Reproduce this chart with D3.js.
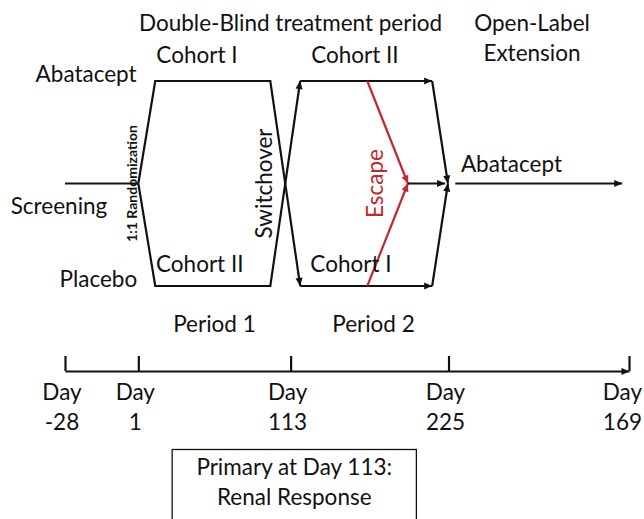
<!DOCTYPE html>
<html>
<head>
<meta charset="utf-8">
<script src="https://cdn.jsdelivr.net/npm/d3@7"></script>
<style>
  body { margin: 0; background: #fff; }
  svg text { font-family: Lato, "Open Sans", sans-serif; fill: #111; }
</style>
</head>
<body>
<div id="chart"></div>
<script>
// arms (rows of the diagram)
const arms = ["Abatacept", "Screening", "Placebo"]

// timeline milestones (schematic position along the study, 0..100)
const milestoneDays = ["-28", "1", "113", "225", "169"]
const milestonePos = [0, 13, 40, 68, 100]

// flow segments: [schematic position, arm]
const screeningPath = [[0, "Screening"], [13, "Screening"]]
const cohortIPeriod1 = [[13, "Screening"], [16, "Abatacept"], [36.4, "Abatacept"], [41.7, "Placebo"]]
const cohortIIPeriod1 = [[13, "Screening"], [16, "Placebo"], [36.4, "Placebo"], [41.7, "Abatacept"]]
const cohortIIPeriod2 = [[41.7, "Abatacept"], [65.1, "Abatacept"]]
const cohortIPeriod2 = [[41.7, "Placebo"], [65.1, "Placebo"]]
const toExtensionTop = [[65.1, "Abatacept"], [67.9, "Screening"]]
const toExtensionBottom = [[65.1, "Placebo"], [67.9, "Screening"]]
const escapeTop = [[53.6, "Abatacept"], [60.8, "Screening"]]
const escapeBottom = [[53.6, "Placebo"], [60.8, "Screening"]]
const escapeOut = [[60.8, "Screening"], [67.4, "Screening"]]
const extensionPath = [[69.2, "Screening"], [98.8, "Screening"]]

let width = 644
let height = 519
let red = "#c4262b"
let fontSize = 22.5

let svg = d3.select("#chart")
    .append("svg")
    .attr("width", width)
    .attr("height", height)

let x = d3.scaleLinear().domain([0, 100]).range([65, 629])
let y = d3.scalePoint().domain(arms).range([81, 286])

let defs = svg.append("defs")
function marker(id, color) {
    defs.append("marker")
        .attr("id", id)
        .attr("viewBox", "0 0 10 10")
        .attr("refX", 10)
        .attr("refY", 5)
        .attr("markerUnits", "userSpaceOnUse")
        .attr("markerWidth", 9)
        .attr("markerHeight", 8)
        .attr("orient", "auto")
        .append("path")
        .attr("d", "M0,0.5L10,5L0,9.5z")
        .attr("fill", color)
}
marker("arrow", "#111")
marker("arrowRed", red)

let line = d3.line().x(d => x(d[0])).y(d => y(d[1]))

function flow(points, color, arrow) {
    svg.append("path")
        .attr("d", line(points))
        .attr("fill", "none")
        .attr("stroke", color)
        .attr("stroke-width", 2.2)
        .attr("stroke-linejoin", "miter")
        .attr("marker-end", arrow ? `url(#${arrow})` : null)
}

flow(screeningPath, "#111", null)
flow(cohortIPeriod1, "#111", "arrow")
flow(cohortIIPeriod1, "#111", "arrow")
flow(cohortIIPeriod2, "#111", "arrow")
flow(cohortIPeriod2, "#111", "arrow")
flow(toExtensionTop, "#111", "arrow")
flow(toExtensionBottom, "#111", "arrow")
flow(escapeTop, red, "arrowRed")
flow(escapeBottom, red, "arrowRed")
flow(escapeOut, "#111", "arrow")
flow(extensionPath, "#111", "arrow")

function label(txt, px, py, anchor, opts = {}) {
    let t = svg.append("text")
        .attr("x", px)
        .attr("y", py)
        .style("text-anchor", anchor)
        .style("font-size", (opts.size || fontSize) + "px")
        .text(txt)
    if (opts.color) t.style("fill", opts.color)
    if (opts.bold) t.style("font-weight", "bold")
    if (opts.rotate) {
        t.attr("x", 0).attr("y", 0)
            .attr("transform", `translate(${px},${py}) rotate(-90)`)
    }
    return t
}

// headers
label("Double-Blind treatment period", x(40), 31, "middle")
label("Open-Label", x(82.8), 31, "middle")
label("Extension", x(82.8), 61, "middle")

// arm labels
label("Abatacept", x(12.7), y("Abatacept") + 1, "end")
label("Screening", x(7.5), y("Screening") + 30, "end")
label("Placebo", x(12.8), y("Placebo") + 1, "end")
label("Abatacept", x(70.2), y("Screening") - 12, "start")

// cohorts
label("Cohort I", x(23.4), y("Abatacept") - 18, "middle")
label("Cohort II", x(51.4), y("Abatacept") - 18, "middle")
label("Cohort II", x(23.9), y("Placebo") - 14, "middle")
label("Cohort I", x(50.7), y("Placebo") - 14, "middle")

// rotated labels
label("1:1 Randomization", x(12.8), y("Screening"), "middle", { size: 14, bold: true, rotate: true })
label("Switchover", x(36.7), y("Screening"), "middle", { rotate: true })
label("Escape", x(56.3), y("Screening"), "middle", { rotate: true, color: red })

// periods
label("Period 1", x((13 + 40) / 2), 332, "middle")
label("Period 2", x(54.7), 332, "middle")

// timeline axis
let axisY = 371
let axis = svg.append("g")
    .attr("transform", `translate(0,${axisY})`)
    .call(d3.axisTop(x).tickValues(milestonePos).tickSize(15).tickSizeOuter(0).tickFormat(""))
axis.select(".domain")
    .attr("stroke", "#111")
    .attr("stroke-width", 2.2)
    .attr("marker-end", "url(#arrow)")
axis.selectAll(".tick line")
    .attr("stroke", "#111")
    .attr("stroke-width", 2.2)

// last label hugs the right edge so it is not cut off
let last = milestonePos.length - 1
let dayX = (d, i) => i === last ? width - 2 : x(d) - 3
let dayAnchor = (d, i) => i === last ? "end" : "middle"

let dayLabels = svg.append("g")
dayLabels.selectAll(".day")
    .data(milestonePos)
    .enter()
    .append("text")
    .attr("x", dayX)
    .attr("y", 400)
    .style("text-anchor", dayAnchor)
    .style("font-size", fontSize + "px")
    .text("Day")
dayLabels.selectAll(".num")
    .data(milestonePos)
    .enter()
    .append("text")
    .attr("x", dayX)
    .attr("y", 430)
    .style("text-anchor", dayAnchor)
    .style("font-size", fontSize + "px")
    .text((d, i) => milestoneDays[i])

// primary endpoint box
let boxL = x(19)
let boxR = x(62.3)
svg.append("rect")
    .attr("x", boxL)
    .attr("y", 449.5)
    .attr("width", boxR - boxL)
    .attr("height", 90)
    .attr("fill", "none")
    .attr("stroke", "#111")
    .attr("stroke-width", 1.3)
label("Primary at Day 113:", (boxL + boxR) / 2, 475, "middle")
label("Renal Response", (boxL + boxR) / 2, 505, "middle")
</script>
</body>
</html>
